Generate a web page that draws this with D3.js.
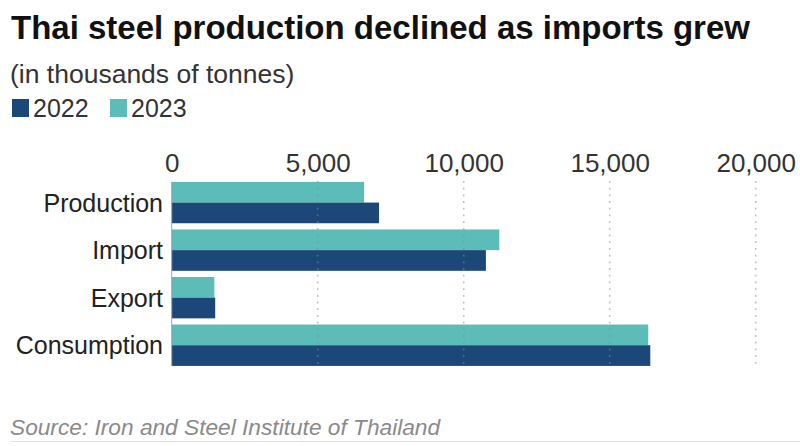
<!DOCTYPE html>
<html>
<head>
<meta charset="utf-8">
<script src="https://cdn.jsdelivr.net/npm/d3@7"></script>
<style>
  html, body { margin: 0; padding: 0; background: #fff; }
  svg { display: block; font-family: "Liberation Sans", Arial, Helvetica, sans-serif; }
</style>
</head>
<body>
<svg id="chart" width="800" height="446"></svg>
<script>
const categories = ["Production", "Import", "Export", "Consumption"];
const seriesNames = ["2023", "2022"];
const values2023 = [6590, 11220, 1460, 16320];
const values2022 = [7100, 10760, 1490, 16390];
const tickValues = [0, 5000, 10000, 15000, 20000];
const legendOrder = ["2022", "2023"];

const colors = { "2022": "#1b4878", "2023": "#5bbcb8" };
const seriesValues = { "2023": values2023, "2022": values2022 };

const svg = d3.select("#chart");

svg.append("text").attr("x", 11).attr("y", 39)
  .attr("font-size", 33).attr("font-weight", "bold").attr("fill", "#111")
  .text("Thai steel production declined as imports grew");

svg.append("text").attr("x", 10).attr("y", 83)
  .attr("font-size", 26.5).attr("fill", "#333")
  .text("(in thousands of tonnes)");

// Legend
const legX = [12, 110];
legendOrder.forEach((name, i) => {
  const g = svg.append("g").attr("transform", `translate(${legX[i]},99)`);
  g.append("rect").attr("width", 17).attr("height", 18).attr("fill", colors[name]);
  g.append("text").attr("x", 21).attr("y", 18).attr("font-size", 25).attr("fill", "#333").text(name);
});

const x = d3.scaleLinear().domain([0, 20000]).range([171.7, 755.7]);
const y = d3.scaleBand().domain(categories).range([178.8, 369]).paddingInner(0.13).paddingOuter(0.065);
const ySub = d3.scaleBand().domain(seriesNames).range([0, y.bandwidth()]);

// Axis labels on top
const xAxis = d3.axisTop(x).tickValues(tickValues).tickSize(0).tickPadding(0)
  .tickFormat(d3.format(","));
const axG = svg.append("g").attr("transform", "translate(0,172)").call(xAxis);
axG.select(".domain").remove();
axG.selectAll("text").attr("font-size", 26).attr("fill", "#333")
  .attr("font-family", "Liberation Sans, Arial, sans-serif").attr("dy", 0);

// Category labels
const yAxis = d3.axisLeft(y).tickSize(0).tickPadding(0);
const yG = svg.append("g").attr("transform", "translate(163,0)").call(yAxis);
yG.select(".domain").remove();
yG.selectAll("text").attr("font-size", 25).attr("fill", "#222")
  .attr("font-family", "Liberation Sans, Arial, sans-serif").attr("dy", "0.36em");

// Bars
const groups = svg.append("g").selectAll("g").data(categories).join("g")
  .attr("transform", d => `translate(0,${y(d)})`);
groups.selectAll("rect")
  .data((d, i) => seriesNames.map(s => ({ s, v: seriesValues[s][i] })))
  .join("rect")
  .attr("x", x(0))
  .attr("y", d => ySub(d.s))
  .attr("width", d => x(d.v) - x(0))
  .attr("height", ySub.bandwidth())
  .attr("fill", d => colors[d.s]);

// Vertical base line
svg.append("line")
  .attr("x1", x(0)).attr("x2", x(0))
  .attr("y1", y(categories[0])).attr("y2", y(categories[3]) + y.bandwidth())
  .attr("stroke", "#9aa8b0").attr("stroke-width", 1);

// Dotted gridlines on top
svg.append("g").selectAll("line").data(tickValues.filter(d => d > 0)).join("line")
  .attr("x1", d => x(d)).attr("x2", d => x(d))
  .attr("y1", 181).attr("y2", 367)
  .attr("stroke", "#8c8c8c").attr("stroke-opacity", 0.55)
  .attr("stroke-width", 1.6).attr("stroke-dasharray", "1.8,4.9");

// Source
svg.append("text").attr("x", 10).attr("y", 435)
  .attr("font-size", 22.7).attr("font-style", "italic").attr("fill", "#8a8a8a")
  .text("Source: Iron and Steel Institute of Thailand");

svg.append("line").attr("x1", 10).attr("x2", 800).attr("y1", 441.5).attr("y2", 441.5)
  .attr("stroke", "#e2e2e2").attr("stroke-width", 1);
</script>
</body>
</html>
